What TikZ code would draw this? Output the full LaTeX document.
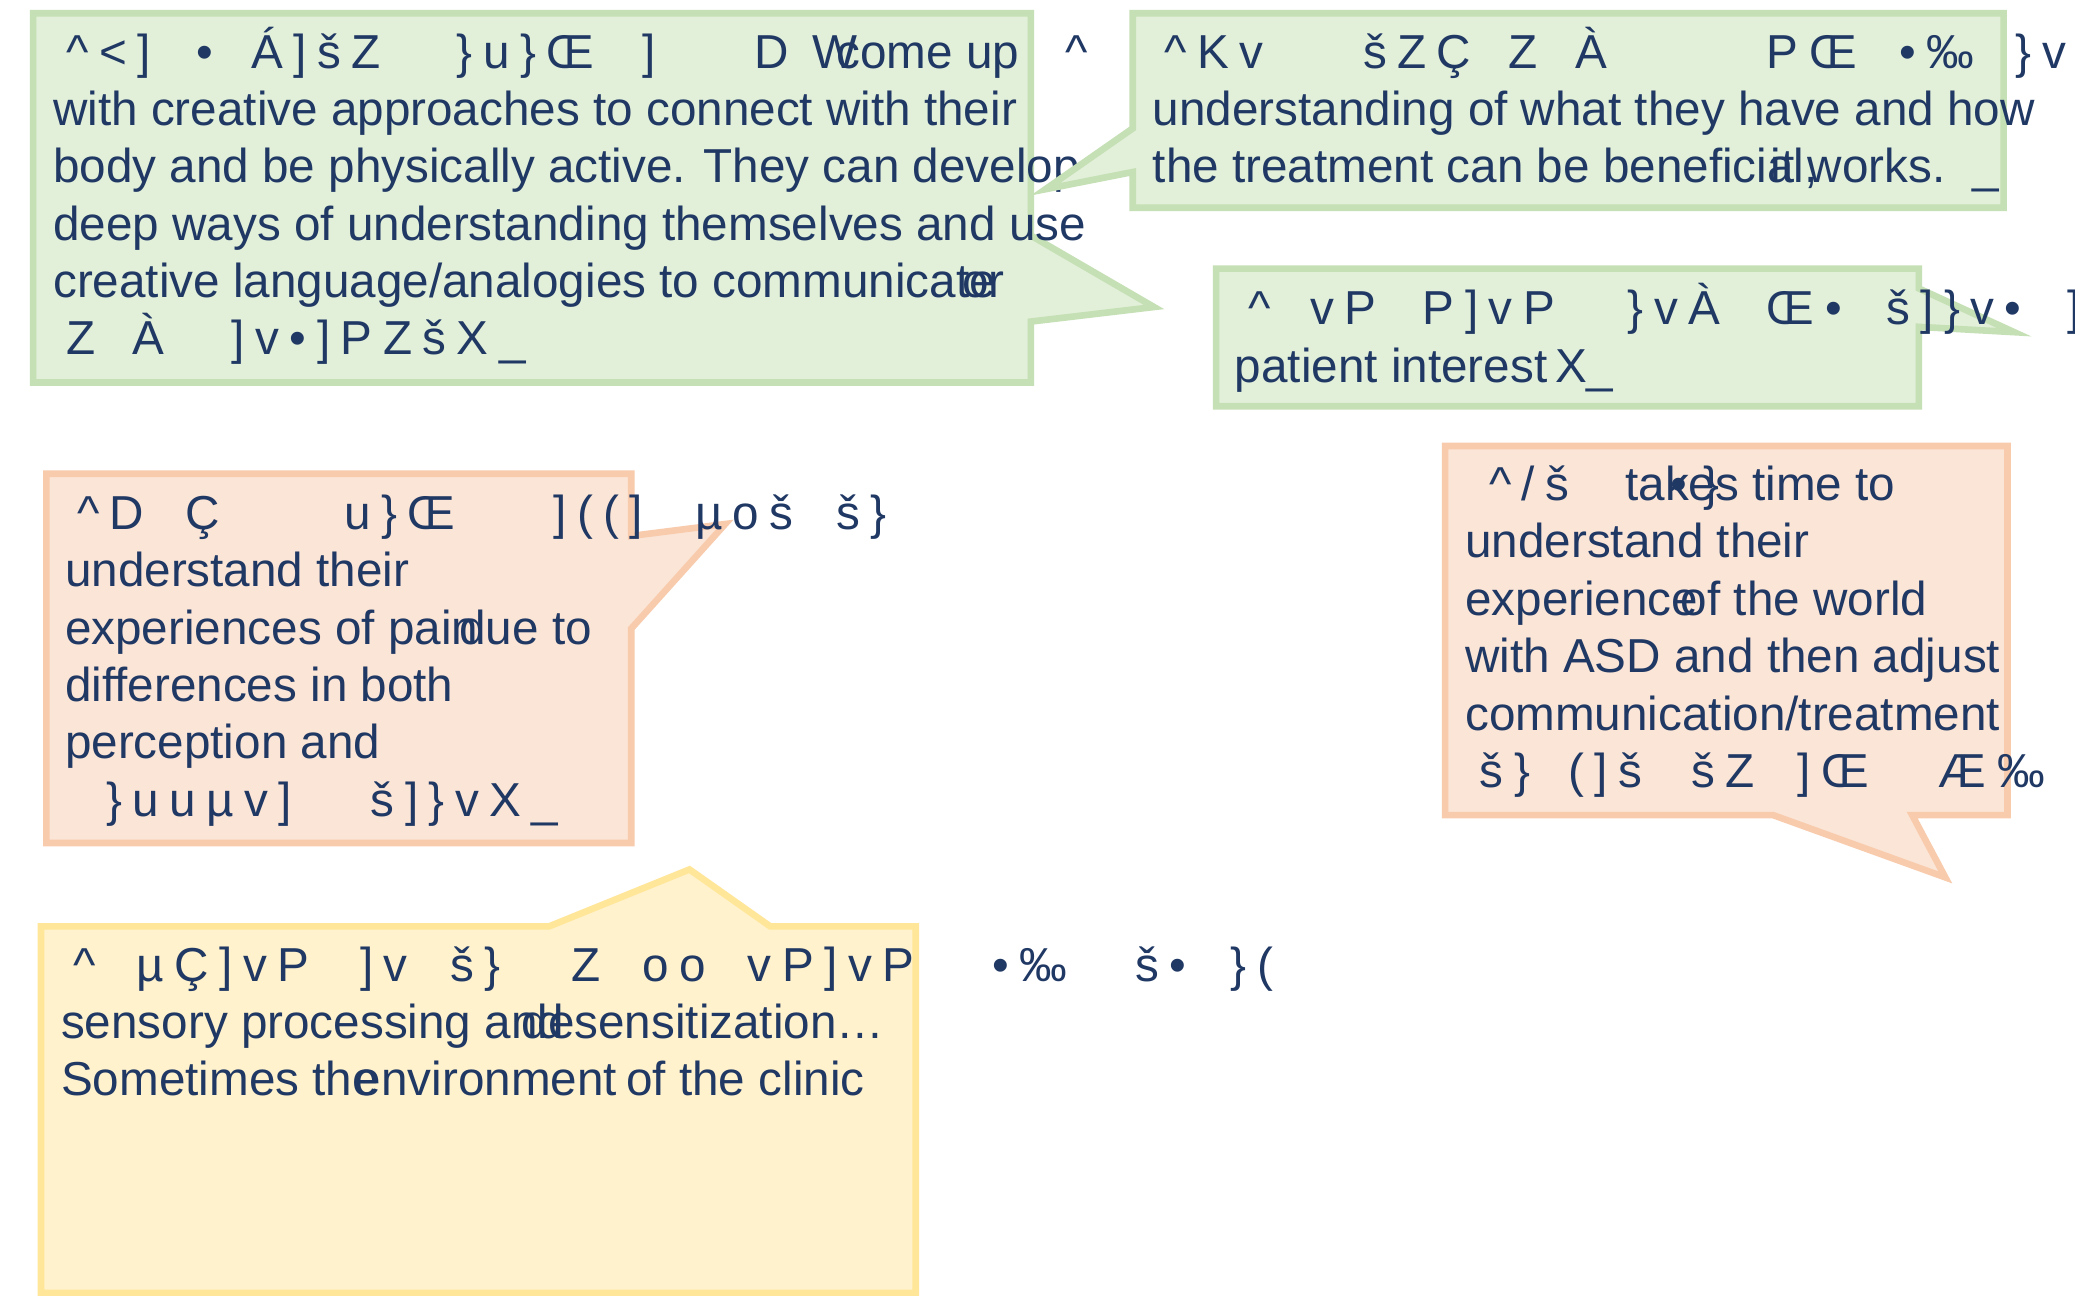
\documentclass[tikz,border=0pt]{standalone}
\usepackage{fontspec}
\setmainfont{Liberation Sans}
\newfontfamily\gfont[LetterSpace=22]{Liberation Sans}
\definecolor{ink}{HTML}{203864}
\definecolor{gfill}{HTML}{E2EFD9}
\definecolor{gline}{HTML}{C5E0B4}
\definecolor{ofill}{HTML}{FBE5D6}
\definecolor{oline}{HTML}{F8CBAD}
\definecolor{yfill}{HTML}{FFF2CC}
\definecolor{yline}{HTML}{FFE699}
\begin{document}
\begin{tikzpicture}[x=1pt,y=-1pt,
  t/.style={anchor=base west, inner sep=0pt, text=ink, font=\fontsize{36}{43}\selectfont},
  g/.style={anchor=base west, inner sep=0pt, text=ink, font=\gfont\fontsize{36}{43}\selectfont},
  greenbox/.style={fill=gfill, draw=gline, line width=5pt, line join=miter},
  orangebox/.style={fill=ofill, draw=oline, line width=5pt, line join=miter},
  yellowbox/.style={fill=yfill, draw=yline, line width=5pt, line join=miter}]
\useasboundingbox (0,0) rectangle (1568,979);
\fill[white] (0,0) rectangle (1568,979);

% ---------- Box 1 ----------
\draw[greenbox] (25,10) -- (779,10) -- (779,178) -- (872,232) -- (779,243) -- (779,289) -- (25,289) -- cycle;
\node[g] (a1) at (50,52) {\textasciicircum<]};
\node[g] (a2) at (148,52) {•};
\node[g] (a3) at (190,52) {Á]šZ};
\node[g] (a4) at (345,52) {\}u\}Œ};
\node[g] (a5) at (485,52) {]};
\node[g] (a6) at (570,52) {D W};
\node[t] (a7) at (632,52) {come up};
\node[g] (a8) at (805,52) {\textasciicircum};
\node[t] (a9) at (40,95) {with creative approaches to connect with their};
\node[t] (a10) at (40,138) {body and be physically active. They can develop};
\node[t] (a11) at (40,182) {deep ways of understanding themselves and use};
\node[t] (a12) at (40,225) {creative language/analogies to communicate};
\node[t] (a13) at (727,225) {or};
\node[g] (a14) at (50,268) {Z};
\node[g] (a15) at (100,268) {À};
\node[g] (a16) at (175,268) {]v•]PZšX\_};

% ---------- Box 2 ----------
\draw[greenbox] (856,10) -- (1514,10) -- (1514,157) -- (856,157) -- (856,130) -- (790,143) -- (856,97) -- cycle;
\node[g] (b1) at (880,52) {\textasciicircum Kv};
\node[g] (b2) at (1030,52) {šZ};
\node[g] (b3) at (1085,52) {Ç};
\node[g] (b4) at (1140,52) {Z};
\node[g] (b5) at (1190,52) {À};
\node[g] (b6) at (1335,52) {PŒ};
\node[g] (b7) at (1435,52) {•‰};
\node[g] (b8) at (1523,52) {\}v};
\node[t] (b9) at (871,95) {understanding of what they have and how};
\node[t] (b10) at (871,138) {the treatment can be beneficial,};
\node[t] (b11) at (1338,138) {it works.};
\node[t] (b12) at (1490,138) {\_};

% ---------- Box 3 ----------
\draw[greenbox] (919,203) -- (1450,203) -- (1450,218) -- (1522,251) -- (1450,247) -- (1450,307) -- (919,307) -- cycle;
\node[g] (c1) at (943,245) {\textasciicircum};
\node[g] (c2) at (990,245) {vP};
\node[g] (c3) at (1075,245) {P]vP};
\node[g] (c4) at (1230,245) {\}vÀ};
\node[g] (c5) at (1335,245) {Œ•};
\node[g] (c6) at (1425,245) {š]\}v•};
\node[g] (c7) at (1562,245) {]};
\node[t] (c8) at (933,289) {patient interest};
\node[t] (c9) at (1175,289) {X\_};

% ---------- Box 4 ----------
\draw[orangebox] (35,358) -- (477,358) -- (477,405) -- (548,396) -- (477,475) -- (477,637) -- (35,637) -- cycle;
\node[g] (d1) at (58,400) {\textasciicircum D};
\node[g] (d2) at (140,400) {Ç};
\node[g] (d3) at (260,400) {u\}Œ};
\node[g] (d4) at (418,400) {]((]};
\node[g] (d5) at (525,400) {µoš};
\node[g] (d6) at (632,400) {š\}};
\node[t] (d7) at (49,443) {understand their};
\node[t] (d8) at (49,487) {experiences of pain};
\node[t] (d9) at (347,487) {due to};
\node[t] (d10) at (49,530) {differences in both};
\node[t] (d11) at (49,573) {perception and};
\node[g] (d12) at (80,617) {\}uuµv]};
\node[g] (d13) at (280,617) {š]\}vX\_};

% ---------- Box 5 ----------
\draw[orangebox] (1092,337) -- (1517,337) -- (1517,616) -- (1445,616) -- (1470,663) -- (1340,616) -- (1092,616) -- cycle;
\node[g] (e1) at (1125,378) {\textasciicircum/š};
\node[t] (e2) at (1228,378) {takes time to};
\node[g] (e3) at (1262,378) {•};
\node[g] (e4) at (1287,378) {\}};
\node[t] (e5) at (1107,421) {understand their};
\node[t] (e6) at (1107,465) {experience};
\node[t] (e7) at (1270,465) {of the world};
\node[t] (e8) at (1107,508) {with ASD and then adjust};
\node[t] (e9) at (1107,552) {communication/treatment};
\node[g] (e10) at (1118,595) {š\}};
\node[g] (e11) at (1185,595) {(]š};
\node[g] (e12) at (1278,595) {šZ};
\node[g] (e13) at (1358,595) {]Œ};
\node[g] (e14) at (1465,595) {Æ‰};

% ---------- Box 6 ----------
\draw[yellowbox] (31,700) -- (415,700) -- (521,657) -- (582,700) -- (692,700) -- (692,977) -- (31,977) -- cycle;
\node[g] (f1) at (55,742) {\textasciicircum};
\node[g] (f2) at (103,742) {µÇ]vP};
\node[g] (f3) at (272,742) {]v};
\node[g] (f4) at (340,742) {š\}};
\node[g] (f5) at (432,742) {Z};
\node[g] (f6) at (485,742) {oo};
\node[g] (f7) at (565,742) {vP]vP};
\node[g] (f8) at (750,742) {•‰};
\node[g] (f9) at (858,742) {š•};
\node[g] (f10) at (930,742) {\}(};
\node[t] (f11) at (46,785) {sensory processing and};
\node[t] (f12) at (394,785) {desensitization…};
\node[t] (f13) at (46,828) {Sometimes the};
\node[t] (f14) at (268,828) {environment};
\node[t] (f15) at (473,828) {of the clinic};
\end{tikzpicture}
\end{document}
